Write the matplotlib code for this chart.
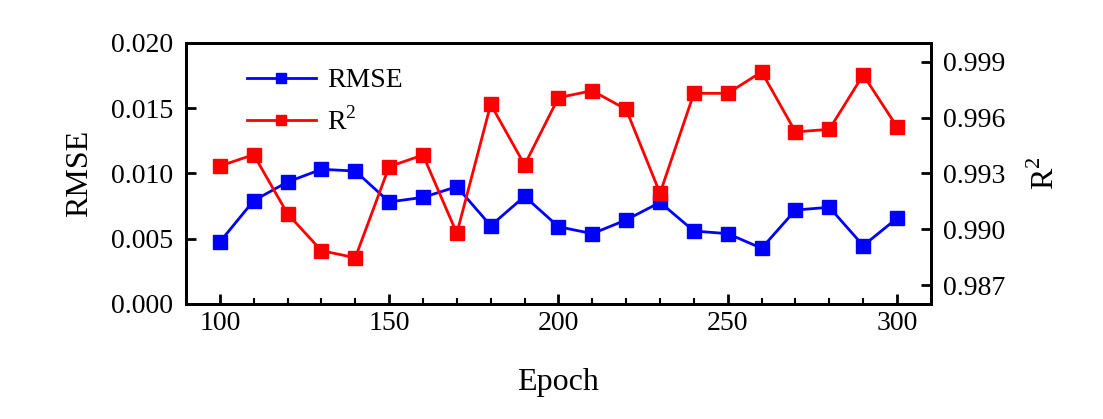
import matplotlib.pyplot as plt
from matplotlib.ticker import MultipleLocator

plt.rcParams["font.family"] = ["Liberation Serif", "DejaVu Serif"]
plt.rcParams["mathtext.fontset"] = "custom"
plt.rcParams["mathtext.rm"] = "Liberation Serif"

epoch = [100, 110, 120, 130, 140, 150, 160, 170, 180, 190, 200,
         210, 220, 230, 240, 250, 260, 270, 280, 290, 300]
rmse = [0.00475, 0.00792, 0.00935, 0.01032, 0.01019, 0.00782, 0.00817,
        0.00899, 0.00600, 0.00825, 0.00592, 0.00539, 0.00644, 0.00779,
        0.00559, 0.00539, 0.00427, 0.00720, 0.00741, 0.00447, 0.00657]
r2 = [0.99340, 0.99401, 0.99084, 0.98886, 0.98848, 0.99337, 0.99399,
      0.98979, 0.99671, 0.99346, 0.99707, 0.99744, 0.99644, 0.99194,
      0.99730, 0.99730, 0.99845, 0.99523, 0.99537, 0.99829, 0.99550]

rmse_ticks = [0.000, 0.005, 0.010, 0.015, 0.020]
r2_ticks = [0.987, 0.990, 0.993, 0.996, 0.999]

fig = plt.figure(figsize=(11.03, 4.19), dpi=100)
ax = fig.add_axes([0.1686, 0.2745, 0.844 - 0.1686, 0.8974 - 0.2745])
ax2 = ax.twinx()

l1, = ax.plot(epoch, rmse, color="#0000ff", marker="s", markersize=9.5,
              linewidth=2, label="RMSE")
l2, = ax2.plot(epoch, r2, color="#ff0000", marker="s", markersize=9.5,
               linewidth=2, label="R$^2$")

ax.set_xlim(90, 310)
ax.set_ylim(0, 0.020)
ax2.set_ylim(0.986, 1.000)
ax.xaxis.set_major_locator(MultipleLocator(50))
ax.xaxis.set_minor_locator(MultipleLocator(10))
ax.set_yticks(rmse_ticks)
ax.set_yticklabels(["%.3f" % v for v in rmse_ticks])
ax2.set_yticks(r2_ticks)
ax2.set_yticklabels(["%.3f" % v for v in r2_ticks])

fs = 20
ax.tick_params(axis="both", which="major", direction="in", length=7,
               width=2, labelsize=fs)
ax.tick_params(axis="y", pad=9)
ax.tick_params(axis="x", pad=5)
ax.tick_params(axis="x", which="minor", direction="in", length=4, width=1.5)
ax2.tick_params(axis="y", which="major", direction="in", length=7,
                width=2, labelsize=fs, pad=9)
for a in (ax, ax2):
    for s in a.spines.values():
        s.set_linewidth(2)

ax.set_xlabel("Epoch", fontsize=23, labelpad=23)
ax.set_ylabel("RMSE", fontsize=23, labelpad=12)
ax2.set_ylabel("R$^2$", fontsize=23, labelpad=17)

leg = ax.legend([l1, l2], ["RMSE", "R$^2$"], loc="upper left", frameon=False,
                fontsize=fs, bbox_to_anchor=(0.048, 1.0), handlelength=2.5,
                labelspacing=0.5, handletextpad=0.4, markerscale=0.8)

fig.savefig("out.png", dpi=100)
